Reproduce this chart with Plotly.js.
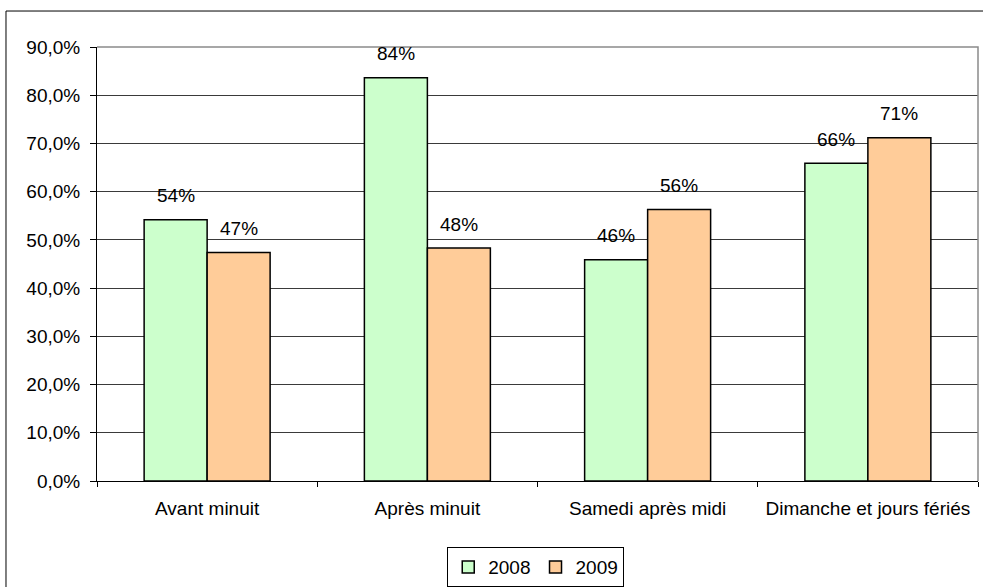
<!DOCTYPE html>
<html>
<head>
<meta charset="utf-8">
<script src="https://cdn.plot.ly/plotly-3.0.1.min.js"></script>
<style>html,body{margin:0;padding:0;background:#fff;}#chart{width:983px;height:587px;}</style>
</head>
<body>
<div id="chart"></div>
<script>
const categories = ["Avant minuit", "Après minuit", "Samedi après midi", "Dimanche et jours fériés"];
const seriesNames = ["2008", "2009"];
const values2008 = [54.2, 83.6, 45.9, 65.9];
const values2009 = [47.4, 48.3, 56.3, 71.2];
const yTickVals = [0, 10, 20, 30, 40, 50, 60, 70, 80, 90];
const yTickText = ["0,0%", "10,0%", "20,0%", "30,0%", "40,0%", "50,0%", "60,0%", "70,0%", "80,0%", "90,0%"];

const FONT = "Liberation Sans, Arial, sans-serif";
const FS = 19;
const colors = ["#CCFFCC", "#FFCC99"];
const allValues = [values2008, values2009];

const traces = allValues.map((vals, i) => ({
  type: "bar",
  name: seriesNames[i],
  x: categories,
  y: vals,
  marker: {color: colors[i], line: {color: "#000", width: 1.5}},
  hoverinfo: "skip"
}));

const annotations = [];
allValues.forEach((vals, i) => {
  vals.forEach((v, j) => {
    annotations.push({
      x: categories[j], y: v, xref: "x", yref: "y",
      text: Math.round(v) + "%",
      showarrow: false,
      xshift: (i === 0 ? -31.5 : 31.5),
      yshift: 24,
      yanchor: "middle",
      font: {family: FONT, size: FS, color: "#000"}
    });
  });
});

const layout = {
  width: 983, height: 587,
  margin: {l: 97, r: 5, t: 47, b: 106},
  paper_bgcolor: "#fff", plot_bgcolor: "#fff",
  barmode: "group",
  bargap: 0.428,
  bargroupgap: 0,
  font: {family: FONT, size: FS, color: "#000"},
  xaxis: {
    type: "category",
    automargin: false,
    tickson: "boundaries",
    ticks: "outside", ticklen: 5, tickcolor: "#000", tickwidth: 1,
    showline: true, linecolor: "#000", linewidth: 1,
    showgrid: false,
    ticklabelstandoff: 10,
    tickfont: {family: FONT, size: FS, color: "#000"}
  },
  yaxis: {
    range: [0, 90],
    automargin: false,
    tickmode: "array",
    tickvals: yTickVals,
    ticktext: yTickText,
    ticks: "outside", ticklen: 6, tickcolor: "#000", tickwidth: 1,
    showline: true, linecolor: "#000", linewidth: 1,
    showgrid: true, gridcolor: "#3a3a3a", gridwidth: 1,
    zeroline: false,
    ticklabelstandoff: 6,
    tickfont: {family: FONT, size: FS, color: "#000"}
  },
  legend: {
    orientation: "h",
    xref: "container", yref: "container",
    x: 0.545, xanchor: "center",
    y: 0.034, yanchor: "middle",
    bordercolor: "#000", borderwidth: 1,
    bgcolor: "#fff",
    itemwidth: 30,
    font: {family: FONT, size: FS, color: "#000"}
  },
  annotations: annotations,
  shapes: [
    {type: "path", xref: "paper", yref: "paper",
     path: "M 0 1 L 1 1 L 1 0", line: {color: "#8a8a8a", width: 1.5}, layer: "above"},
    {type: "path", xref: "paper", yref: "paper",
     path: "M -0.1033 -0.6 L -0.1033 1.0829 L 1.2 1.0829", line: {color: "#000", width: 1}, layer: "above"}
  ],
  showlegend: true
};

Plotly.newPlot("chart", traces, layout, {displayModeBar: false, staticPlot: true});
</script>
</body>
</html>
